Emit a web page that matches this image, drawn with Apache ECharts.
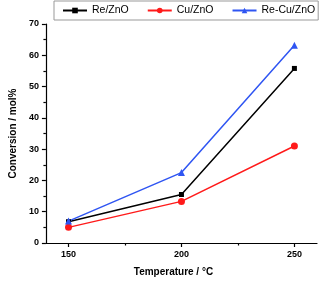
<!DOCTYPE html>
<html><head><meta charset="utf-8">
<script src="https://cdn.jsdelivr.net/npm/echarts@6/dist/echarts.min.js"></script>
<style>html,body{margin:0;padding:0;background:#fff}#c{width:323px;height:282px}</style>
</head><body><div id="c"></div>
<script>
const temperatures = [150, 200, 250];
const reZnO = [6.8, 15.5, 55.8];
const cuZnO = [5.0, 13.3, 31.0];
const reCuZnO = [7.0, 22.5, 63.2];
const xTickLabels = [150, 200, 250];
const xMinorTicks = [175, 225];
const seriesNames = ['Re/ZnO', 'Cu/ZnO', 'Re-Cu/ZnO'];

const font = 'Liberation Sans, Arial, sans-serif';
const chart = echarts.init(document.getElementById('c'), null, {renderer: 'canvas'});
function pts(vals) { return temperatures.map((t, i) => [t, vals[i]]); }
chart.setOption({
  animation: false,
  legend: {
    left: 54, right: 4, top: 1, padding: [4, 3, 4, 8],
    borderColor: '#999', borderWidth: 1,
    itemWidth: 24, itemHeight: 7, itemGap: 18,
    textStyle: {fontFamily: font, fontSize: 10.5, color: '#000'},
    data: seriesNames
  },
  grid: {left: 33, right: 6, top: 24, bottom: 36, containLabel: false},
  xAxis: [{
    type: 'value', min: 140, max: 260,
    name: 'Temperature / °C', nameLocation: 'middle', nameGap: 24,
    nameTextStyle: {fontFamily: font, fontSize: 10, fontWeight: 'bold', color: '#000', padding: [0, 16, 0, 0]},
    axisLine: {lineStyle: {color: '#000', width: 1.2}},
    axisTick: {show: true, length: 4, customValues: xTickLabels, lineStyle: {color: '#000', width: 1.2}},
    axisLabel: {customValues: xTickLabels, fontFamily: font, fontSize: 9, fontWeight: 'bold', color: '#000', margin: 7},
    splitLine: {show: false}
  }, {
    type: 'value', min: 140, max: 260, position: 'bottom',
    axisLine: {show: false},
    axisTick: {show: true, length: 2.5, customValues: xMinorTicks, lineStyle: {color: '#000', width: 1.2}},
    axisLabel: {show: false, customValues: xMinorTicks},
    splitLine: {show: false}
  }],
  yAxis: {
    type: 'value', min: 0, max: 70, interval: 10,
    name: 'Conversion / mol%', nameLocation: 'middle', nameGap: 24,
    nameTextStyle: {fontFamily: font, fontSize: 10, fontWeight: 'bold', color: '#000'},
    axisLine: {show: true, lineStyle: {color: '#000', width: 1.2}},
    axisTick: {show: true, length: 4, lineStyle: {color: '#000', width: 1.2}},
    minorTick: {show: true, splitNumber: 2, length: 2.5, lineStyle: {color: '#000', width: 1.2}},
    axisLabel: {fontFamily: font, fontSize: 9, fontWeight: 'bold', color: '#000', margin: 7},
    splitLine: {show: false}
  },
  series: [
    {name: seriesNames[0], type: 'line', data: pts(reZnO), symbol: 'rect', symbolSize: 5,
     itemStyle: {color: '#000'}, lineStyle: {color: '#000', width: 1.5}},
    {name: seriesNames[1], type: 'line', data: pts(cuZnO), symbol: 'circle', symbolSize: 7,
     itemStyle: {color: '#ff1a1a'}, lineStyle: {color: '#ff1a1a', width: 1.5}},
    {name: seriesNames[2], type: 'line', data: pts(reCuZnO), symbol: 'triangle', symbolSize: 7,
     itemStyle: {color: '#2f55f2'}, lineStyle: {color: '#2f55f2', width: 1.5}}
  ]
});
</script></body></html>
